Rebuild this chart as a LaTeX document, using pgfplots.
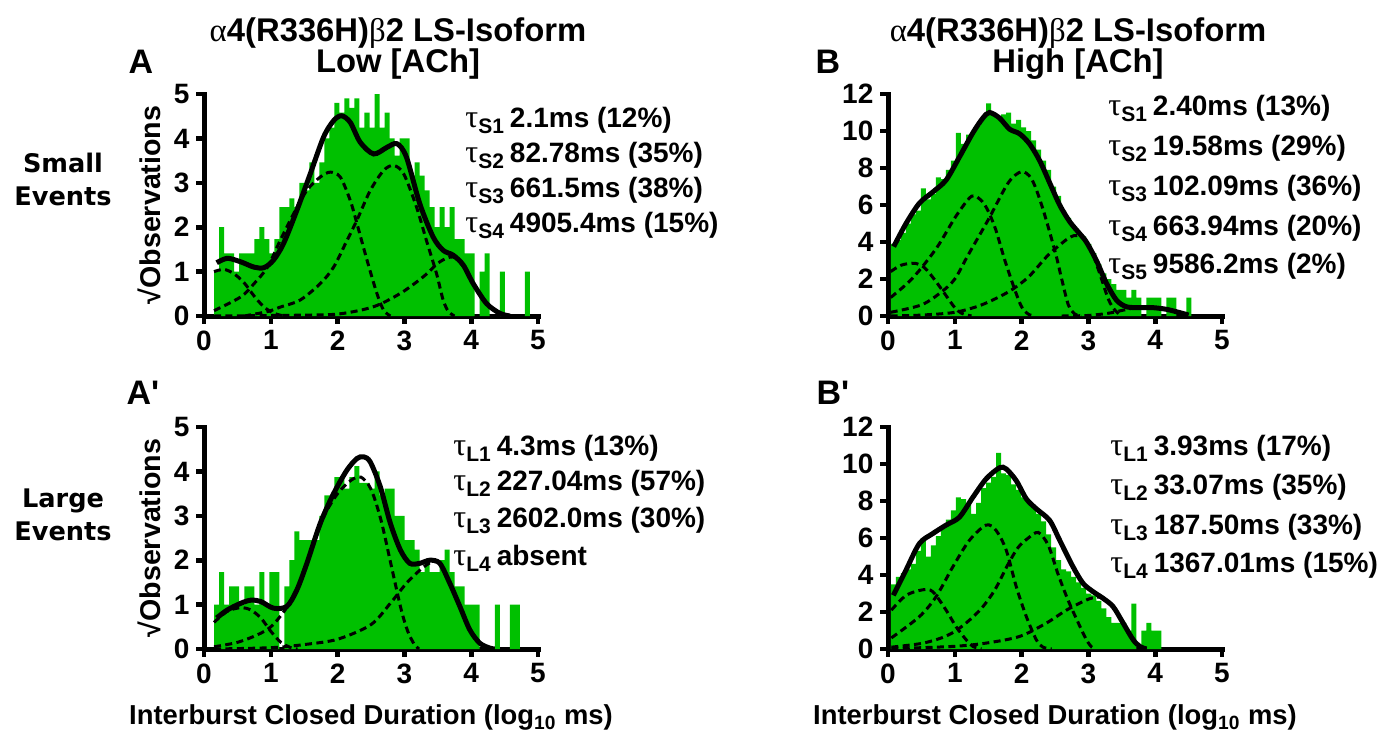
\documentclass[border=0pt]{standalone}
\usepackage{fontspec}
\setmainfont{Liberation Sans}
\newfontfamily\symb{Liberation Serif}
\newfontfamily\dejavu{DejaVu Sans}
\usepackage{pgfplots}
\pgfplotsset{compat=1.18}
\usepackage{pgfplotstable}
\definecolor{barg}{RGB}{0,192,0}

\pgfplotsset{
  prism/.style={
    scale only axis, width=167pt, height=111pt, anchor=south west,
    xmin=0, xmax=5, ymin=0,
    axis lines=left,
    axis line style={-, line width=2.5pt, line cap=rect},
    tick style={black, line width=2.3pt},
    tick align=outside, major tick length=3.8pt,
    xtick={0,1,...,5},
    ticklabel style={font=\fontsize{14}{14}\selectfont\bfseries},
    /pgf/number format/assume math mode=true,
    label style={font=\fontsize{13.7}{15}\selectfont\bfseries},
    clip=false,
  },
  fitline/.style={black, line width=2.5pt, smooth},
  comp/.style={black, line width=1.5pt, dash pattern=on 3.5pt off 2.2pt, smooth},
  hist/.style={ybar, bar width=0.075, fill=barg, draw=none},
}

\newcommand{\tl}[2]{{\symb\mdseries\fontsize{16}{16}\selectfont τ}\raisebox{-3pt}{\fontsize{10.5}{10.5}\selectfont #1}\hspace{3pt}#2}

% sqrt(counts) per bin
\pgfplotstableread{
x y
0.19 1.0
0.265 2.0
0.34 1.41
0.415 1.41
0.49 1.0
0.565 1.41
0.64 1.41
0.715 1.41
0.79 1.73
0.865 2.0
0.94 1.73
1.015 1.41
1.09 1.73
1.165 2.45
1.24 2.45
1.315 2.65
1.39 2.45
1.465 3.0
1.54 2.83
1.615 3.46
1.69 3.0
1.765 3.46
1.84 4.0
1.915 4.24
1.99 4.8
2.065 4.58
2.14 4.9
2.215 4.69
2.29 4.9
2.365 4.24
2.44 4.58
2.515 4.24
2.59 5.0
2.665 4.24
2.74 4.58
2.815 4.0
2.89 3.61
2.965 4.0
3.04 4.0
3.115 3.16
3.19 3.46
3.265 3.16
3.34 2.83
3.415 2.45
3.49 2.0
3.565 2.45
3.64 2.0
3.715 2.45
3.79 1.73
3.865 1.73
3.94 1.41
4.015 1.41
4.165 1.0
4.24 1.41
4.465 1.0
4.84 1.0
}\barsA

\pgfplotstableread{
x y
0.08 3.9
0.155 4.1
0.23 4.5
0.305 5.0
0.38 5.5
0.455 5.7
0.53 6.9
0.605 6.3
0.68 6.6
0.755 7.5
0.83 7.4
0.905 7.9
0.98 8.4
1.055 9.9
1.13 9.3
1.205 9.8
1.28 10.0
1.355 10.3
1.43 10.8
1.505 11.5
1.58 10.9
1.655 10.7
1.73 10.9
1.805 11.0
1.88 10.4
1.955 10.6
2.03 10.2
2.105 10.0
2.18 9.5
2.255 9.0
2.33 8.4
2.405 7.9
2.48 7.0
2.555 6.5
2.63 5.7
2.705 5.3
2.78 4.8
2.855 4.5
2.93 4.3
3.005 3.9
3.08 3.4
3.155 2.8
3.23 2.3
3.305 2.0
3.38 1.73
3.455 1.41
3.53 1.41
3.605 1.0
3.68 1.41
3.755 1.0
3.905 1.0
3.98 1.0
4.055 1.0
4.205 1.0
4.28 1.0
4.505 1.0
}\barsB

\pgfplotstableread{
x y
0.19 1.0
0.265 1.73
0.34 1.0
0.415 1.41
0.49 1.41
0.565 1.0
0.64 1.41
0.715 1.41
0.79 1.0
0.865 1.73
0.94 1.0
1.015 1.73
1.09 1.73
1.24 1.41
1.315 2.0
1.39 2.65
1.465 2.45
1.54 2.45
1.615 2.45
1.69 2.45
1.765 3.0
1.84 3.46
1.915 3.46
1.99 3.87
2.065 3.87
2.14 3.61
2.215 3.87
2.29 4.12
2.365 3.74
2.44 3.74
2.515 3.61
2.59 4.0
2.665 3.46
2.74 3.61
2.815 3.61
2.89 3.0
2.965 3.0
3.04 2.45
3.115 2.45
3.19 2.24
3.265 1.73
3.34 2.0
3.415 1.73
3.49 1.73
3.565 2.0
3.64 2.24
3.715 1.73
3.79 1.41
3.865 1.41
3.94 1.0
4.015 1.0
4.09 1.0
4.39 1.0
4.615 1.0
4.69 1.0
}\barsAp

\pgfplotstableread{
x y
0.08 3.5
0.155 3.9
0.23 4.1
0.305 4.3
0.38 4.6
0.455 5.3
0.53 6.0
0.605 5.0
0.68 5.6
0.755 6.1
0.83 6.7
0.905 7.0
0.98 7.5
1.055 8.2
1.13 8.1
1.205 7.8
1.28 7.3
1.355 7.9
1.43 8.7
1.505 9.0
1.58 9.3
1.655 10.6
1.73 9.5
1.805 9.4
1.88 8.9
1.955 8.6
2.03 8.2
2.105 8.0
2.18 7.7
2.255 7.3
2.33 6.9
2.405 6.2
2.48 5.5
2.555 4.8
2.63 4.3
2.705 4.2
2.78 3.9
2.855 3.6
2.93 3.3
3.005 3.0
3.08 2.9
3.155 2.6
3.23 2.2
3.305 1.73
3.38 1.41
3.455 1.41
3.53 1.41
3.605 1.0
3.68 2.45
3.83 1.0
3.905 1.41
3.98 1.0
4.055 1.0
}\barsBp

\begin{document}
\begin{tikzpicture}
% ---- A: small events, low ACh
\begin{axis}[prism, at={(102pt,-158pt)}, ymax=5, ytick={0,1,...,5},
  ylabel={√Observations}, ylabel style={at={(axis description cs:-0.165,0.5)}, anchor=center, font=\fontsize{14.3}{15}\selectfont\bfseries}]
\addplot[hist] table {\barsA};
\addplot[comp] coordinates {(0.15,1.0) (0.3,1.05) (0.45,0.95) (0.6,0.75) (0.75,0.45) (0.9,0.2) (1.05,0.06) (1.2,0.0)};
\addplot[comp] coordinates {(0.15,0.12) (0.55,0.43) (0.75,0.73) (0.95,1.1) (1.14,1.7) (1.34,2.3) (1.54,2.83) (1.74,3.13) (1.89,3.24) (2.04,3.13) (2.19,2.6) (2.29,2.08) (2.44,1.26) (2.59,0.5) (2.69,0.13) (2.79,0)};
\addplot[comp] coordinates {(0.6,0.0) (0.95,0.1) (1.14,0.2) (1.44,0.36) (1.74,0.73) (1.94,1.1) (2.14,1.7) (2.29,2.16) (2.49,2.83) (2.69,3.28) (2.84,3.39) (2.99,3.2) (3.18,2.46) (3.33,1.7) (3.48,0.96) (3.58,0.36) (3.66,0.1) (3.75,0)};
\addplot[comp] coordinates {(0.15,0) (1.5,0.02) (2.04,0.05) (2.54,0.21) (2.94,0.51) (3.28,0.88) (3.53,1.22) (3.73,1.33) (3.88,1.12) (4.03,0.72) (4.23,0.27) (4.43,0.05) (4.58,0)};
\addplot[fitline] coordinates {(0.19,1.2) (0.35,1.3) (0.55,1.22) (0.75,1.1) (0.9,1.09) (1.04,1.26) (1.19,1.63) (1.39,2.38) (1.59,3.2) (1.79,4.03) (1.94,4.4) (2.06,4.51) (2.19,4.36) (2.34,3.91) (2.54,3.65) (2.74,3.8) (2.89,3.88) (3.03,3.58) (3.23,2.53) (3.43,1.78) (3.58,1.48) (3.73,1.37) (3.88,1.15) (4.03,0.73) (4.23,0.28) (4.43,0.06) (4.58,0)};
\end{axis}
% ---- B: small events, high ACh
\begin{axis}[prism, at={(444pt,-158pt)}, ymax=12, ytick={0,2,...,12}]
\addplot[hist] table {\barsB};
\addplot[comp] coordinates {(0.04,2.4) (0.2,2.75) (0.4,2.85) (0.55,2.6) (0.7,1.95) (0.85,1.2) (1.0,0.45) (1.1,0.15) (1.25,0)};
\addplot[comp] coordinates {(0.04,1.0) (0.3,1.8) (0.5,2.6) (0.75,3.8) (1.0,5.3) (1.2,6.3) (1.3,6.5) (1.45,6.0) (1.6,4.8) (1.75,3.0) (1.9,1.4) (2.0,0.5) (2.1,0.1) (2.2,0)};
\addplot[comp] coordinates {(0.04,0.2) (0.5,0.6) (0.8,1.3) (1.0,2.0) (1.2,3.3) (1.5,5.2) (1.8,7.2) (2.0,7.8) (2.15,7.4) (2.3,6.0) (2.5,3.5) (2.6,2.0) (2.7,0.6) (2.8,0.1) (2.9,0)};
\addplot[comp] coordinates {(0.04,0) (0.5,0.05) (1.0,0.2) (1.4,0.6) (1.8,1.3) (2.1,2.1) (2.4,3.3) (2.7,4.2) (2.85,4.35) (3.0,3.9) (3.15,2.5) (3.3,0.9) (3.4,0.3) (3.5,0)};
\addplot[comp] coordinates {(2.6,0) (3.0,0.03) (3.3,0.15) (3.5,0.3) (3.7,0.45)};
\addplot[fitline] coordinates {(0.085,3.75) (0.27,5.0) (0.47,6.1) (0.67,6.7) (0.87,7.35) (1.07,8.6) (1.27,9.9) (1.42,10.7) (1.52,11.0) (1.67,10.7) (1.82,10.1) (1.97,9.85) (2.12,9.3) (2.27,8.4) (2.42,7.2) (2.57,6.0) (2.72,5.1) (2.87,4.45) (2.97,4.0) (3.12,3.0) (3.27,1.77) (3.42,0.86) (3.57,0.5) (3.77,0.45) (3.97,0.45) (4.17,0.36) (4.37,0.18) (4.5,0.05)};
\end{axis}
% ---- A': large events, low ACh
\begin{axis}[prism, at={(102pt,-324.5pt)}, ymax=5, ytick={0,1,...,5},
  ylabel={√Observations}, ylabel style={at={(axis description cs:-0.165,0.5)}, anchor=center, font=\fontsize{14.3}{15}\selectfont\bfseries},
  xlabel={Interburst Closed Duration (log\textsubscript{10} ms)},
  xlabel style={at={(axis description cs:0.5,-0.342)}, anchor=base}]
\addplot[hist] table {\barsAp};
\addplot[comp] coordinates {(0.15,0.6) (0.35,0.85) (0.55,0.93) (0.7,0.88) (0.85,0.7) (1.0,0.4) (1.15,0.15) (1.3,0.03) (1.4,0)};
\addplot[comp] coordinates {(0.15,0.05) (0.5,0.15) (0.8,0.32) (1.0,0.5) (1.2,0.85) (1.4,1.35) (1.6,2.2) (1.8,3.0) (2.0,3.5) (2.2,3.8) (2.35,3.87) (2.5,3.6) (2.65,2.9) (2.8,1.9) (2.95,0.9) (3.05,0.4) (3.15,0.1) (3.22,0)};
\addplot[comp] coordinates {(0.15,0.0) (1.0,0.03) (1.5,0.1) (2.0,0.22) (2.5,0.55) (2.8,1.05) (3.03,1.48) (3.25,1.8) (3.4,1.95) (3.53,1.93) (3.68,1.48) (3.83,0.96) (3.98,0.43) (4.13,0.13) (4.28,0)};
\addplot[fitline] coordinates {(0.19,0.7) (0.35,0.88) (0.55,1.03) (0.7,1.1) (0.85,1.07) (1.04,0.92) (1.24,0.96) (1.39,1.33) (1.54,1.93) (1.74,2.83) (1.94,3.5) (2.14,4.03) (2.29,4.29) (2.39,4.33) (2.49,4.21) (2.64,3.65) (2.79,2.83) (2.94,2.23) (3.08,1.93) (3.23,1.93) (3.38,2.0) (3.53,1.93) (3.68,1.48) (3.83,0.96) (3.98,0.43) (4.13,0.13) (4.28,0.02) (4.35,0)};
\end{axis}
% ---- B': large events, high ACh
\begin{axis}[prism, at={(444pt,-324.5pt)}, ymax=12, ytick={0,2,...,12},
  xlabel={Interburst Closed Duration (log\textsubscript{10} ms)},
  xlabel style={at={(axis description cs:0.5,-0.342)}, anchor=base}]
\addplot[hist] table {\barsBp};
\addplot[comp] coordinates {(0.05,2.1) (0.27,2.9) (0.52,3.2) (0.67,3.1) (0.87,2.1) (1.02,1.2) (1.17,0.5) (1.27,0.14) (1.4,0)};
\addplot[comp] coordinates {(0.05,0.6) (0.47,1.75) (0.72,2.83) (0.97,4.44) (1.22,5.88) (1.47,6.7) (1.62,6.4) (1.77,5.34) (1.92,3.37) (2.07,1.76) (2.22,0.5) (2.32,0.1) (2.45,0)};
\addplot[comp] coordinates {(0.05,0.1) (0.5,0.3) (0.8,0.6) (1.0,0.95) (1.2,1.5) (1.4,2.2) (1.6,3.2) (1.8,4.6) (1.95,5.5) (2.1,6.0) (2.25,6.3) (2.4,5.6) (2.55,4.0) (2.7,2.6) (2.85,1.4) (2.97,0.5) (3.05,0.1) (3.1,0)};
\addplot[comp] coordinates {(0.05,0.02) (0.97,0.14) (1.47,0.32) (1.97,0.68) (2.37,1.4) (2.67,2.1) (2.97,2.65) (3.12,2.8) (3.22,2.74) (3.37,2.29) (3.52,1.4) (3.67,0.5) (3.77,0.14) (3.87,0)};
\addplot[fitline] coordinates {(0.08,2.9) (0.27,4.27) (0.47,5.7) (0.67,6.24) (0.87,6.7) (1.07,7.13) (1.27,8.2) (1.47,9.2) (1.67,9.8) (1.77,9.73) (1.92,9.1) (2.07,8.12) (2.22,7.58) (2.42,6.95) (2.57,5.88) (2.77,4.44) (2.92,3.55) (3.07,3.1) (3.22,2.74) (3.37,2.29) (3.52,1.4) (3.67,0.5) (3.77,0.14) (3.87,0)};
\end{axis}

% column titles, panel letters, row labels
\begin{scope}[every node/.style={font=\fontsize{16.4}{18}\selectfont\bfseries, inner sep=0pt}]
\node[anchor=base] at (199pt,-20.5pt) {{\symb\mdseries α}4(R336H){\symb\mdseries β}2 LS-Isoform};
\node[anchor=base] at (199pt,-36pt) {Low [ACh]};
\node[anchor=base] at (539pt,-20.5pt) {{\symb\mdseries α}4(R336H){\symb\mdseries β}2 LS-Isoform};
\node[anchor=base] at (539pt,-36pt) {High [ACh]};
\end{scope}
\begin{scope}[every node/.style={font=\fontsize{17}{18}\selectfont\bfseries, inner sep=0pt}]
\node[anchor=base] at (70.5pt,-36.5pt) {A};
\node[anchor=base] at (414pt,-36.5pt) {B};
\node[anchor=base] at (71.5pt,-202pt) {A\textquotesingle};
\node[anchor=base] at (416.5pt,-202pt) {B\textquotesingle};
\end{scope}
\begin{scope}[every node/.style={font=\dejavu\bfseries\fontsize{12.8}{14}\selectfont, inner sep=0pt}]
\node[anchor=base] at (31.5pt,-86pt) {Small};
\node[anchor=base] at (31.5pt,-102.5pt) {Events};
\node[anchor=base] at (31.5pt,-253.5pt) {Large};
\node[anchor=base] at (31.5pt,-270pt) {Events};
\end{scope}

% fitted time constants
\begin{scope}[every node/.style={font=\fontsize{14}{14}\selectfont\bfseries, inner sep=0pt, anchor=base west}]
\node at (232.5pt,-63.5pt) {\tl{S1}{2.1ms (12\%)}};
\node at (232.5pt,-81pt) {\tl{S2}{82.78ms (35\%)}};
\node at (232.5pt,-98.5pt) {\tl{S3}{661.5ms (38\%)}};
\node at (232.5pt,-116pt) {\tl{S4}{4905.4ms (15\%)}};
\node at (554pt,-57.5pt) {\tl{S1}{2.40ms (13\%)}};
\node at (554pt,-77.5pt) {\tl{S2}{19.58ms (29\%)}};
\node at (554pt,-97.5pt) {\tl{S3}{102.09ms (36\%)}};
\node at (554pt,-117.5pt) {\tl{S4}{663.94ms (20\%)}};
\node at (554pt,-136.5pt) {\tl{S5}{9586.2ms (2\%)}};
\node at (226.5pt,-227.5pt) {\tl{L1}{4.3ms (13\%)}};
\node at (226.5pt,-245pt) {\tl{L2}{227.04ms (57\%)}};
\node at (226.5pt,-263.5pt) {\tl{L3}{2602.0ms (30\%)}};
\node at (226.5pt,-282.5pt) {\tl{L4}{absent}};
\node at (555pt,-227.5pt) {\tl{L1}{3.93ms (17\%)}};
\node at (555pt,-247pt) {\tl{L2}{33.07ms (35\%)}};
\node at (555pt,-267pt) {\tl{L3}{187.50ms (33\%)}};
\node at (555pt,-286pt) {\tl{L4}{1367.01ms (15\%)}};
\end{scope}

\pgfresetboundingbox
\path[use as bounding box] (0,0) rectangle (692.5pt,-367pt);
\end{tikzpicture}
\end{document}
